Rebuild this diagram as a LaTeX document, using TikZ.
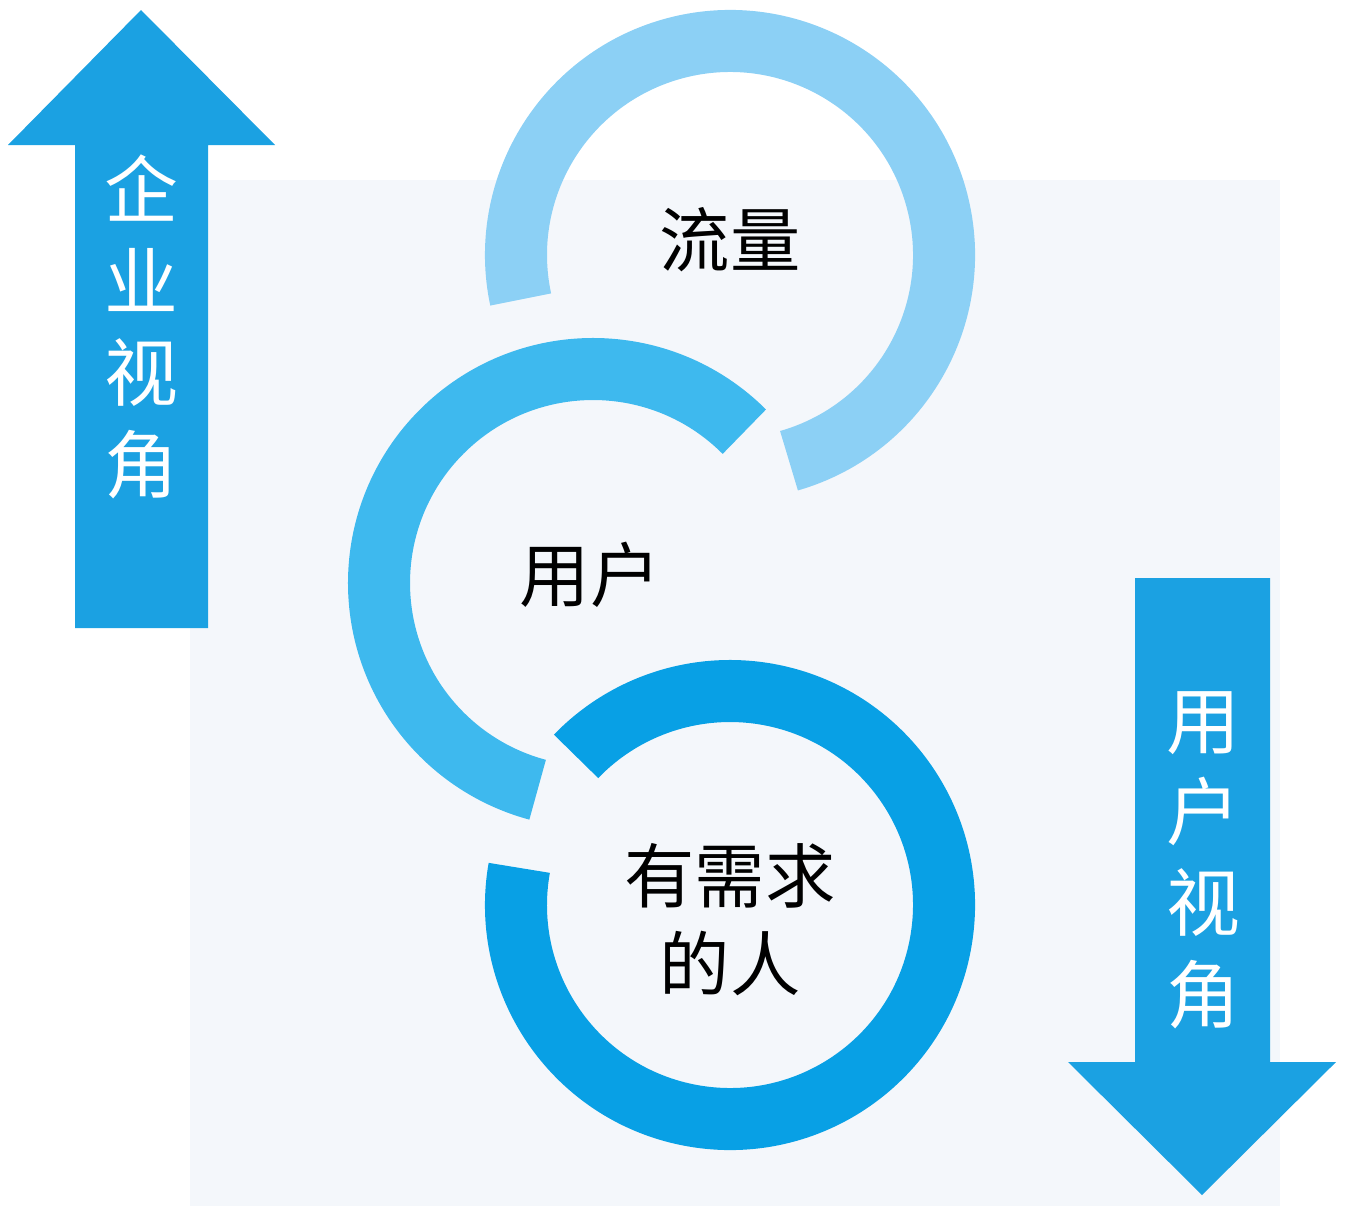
\documentclass[tikz,border=0pt]{standalone}
\usepackage{fontspec}
\newfontfamily\cjk{Noto Sans CJK SC}
\definecolor{arrowblue}{RGB}{27,161,226}
\definecolor{ringtop}{RGB}{140,208,245}
\definecolor{ringmid}{RGB}{62,185,238}
\definecolor{ringlow}{RGB}{8,160,229}
\definecolor{panel}{RGB}{244,247,251}
\begin{document}
\begin{tikzpicture}[x=0.01cm,y=-0.01cm]
        \tikzset{ring/.style={line width=0.62cm}}
        \tikzset{sidetext/.style={text=white,font=\cjk\fontsize{21}{26}\selectfont,align=center}}
        \tikzset{ringtext/.style={text=black,font=\cjk\fontsize{20}{25}\selectfont,align=center}}
        \useasboundingbox (0,0) rectangle (1346,1206);
        \fill[panel] (190,180) rectangle (1280,1206);
        % arrows
        \fill[arrowblue] (75,628) -- (75,145) -- (8,145) -- (141,10) -- (275,145) -- (208,145) -- (208,628) -- cycle;
        \fill[arrowblue] (1135,578) -- (1135,1062) -- (1068,1062) -- (1202,1195) -- (1336,1062) -- (1270,1062) -- (1270,578) -- cycle;
        \node[sidetext] (corp) at (141,327) {企\\业\\视\\角};
        \node[sidetext] (user) at (1203,860) {用\\户\\视\\角};
        % rings
        \draw[ring,ringtop] (730,255) ++(74:214) arc[start angle=74,end angle=-192,radius=214];
        \draw[ring,ringmid] (593,583) ++(-45:214) arc[start angle=-45,end angle=-255,radius=214];
        \draw[ring,ringlow] (730,905) ++(-170:214) arc[start angle=-170,end angle=-496,radius=214];
        \node[ringtext] (flow) at (730,240) {流量};
        \node[ringtext] (users) at (590,575) {用户};
        \node[ringtext] (need) at (730,920) {有需求\\的人};
\end{tikzpicture}
\end{document}
